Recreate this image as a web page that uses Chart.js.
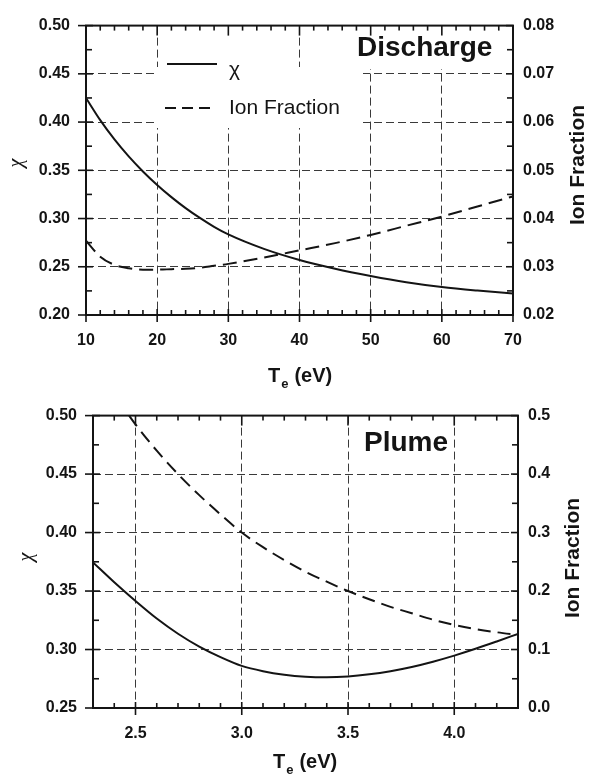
<!DOCTYPE html>
<html><head><meta charset="utf-8">
<script src="https://cdn.jsdelivr.net/npm/chart.js@4.4.1/dist/chart.umd.min.js"></script>
<style>
html,body{margin:0;padding:0;background:#fff;width:589px;height:781px;overflow:hidden}
.wrap{position:absolute;left:0;width:589px}
#w1{top:0;height:390px}
#w2{top:390px;height:391px}
canvas{display:block}
</style></head><body>
<div class="wrap" id="w1"><canvas id="c1" width="589" height="390"></canvas></div>
<div class="wrap" id="w2"><canvas id="c2" width="589" height="391"></canvas></div>
<script>
// ---------- Discharge panel data ----------
const dischargeTe  = [10,12,14,16,18,20,22,24,26,28,30,35,40,45,50,55,60,65,70];
const dischargeChi = [0.425,0.402,0.382,0.3644,0.3488,0.3348,0.3222,0.3108,0.3006,0.2914,0.2835,0.2685,0.257,0.248,0.2405,0.234,0.229,0.2253,0.2222];
const dischargeIon = [0.0354,0.0321,0.0304,0.0297,0.0294,0.0294,0.0295,0.0296,0.0298,0.0302,0.0306,0.0319,0.0334,0.0349,0.0366,0.0385,0.0404,0.0425,0.0446];
const dischargeXTicks = [10,70,10];      // min, max, major step
const dischargeChiTicks = [0.20,0.50,0.05];
const dischargeIonTicks = [0.02,0.08,0.01];

// ---------- Plume panel data ----------
const plumeTe    = [2.3,2.4,2.5,2.6,2.7,2.8,2.9,3.0,3.1,3.2,3.3,3.4,3.5,3.6,3.7,3.8,3.9,4.0,4.1,4.2,4.3];
const plumeChi   = [0.3745,0.3575,0.3415,0.3265,0.3135,0.3025,0.2935,0.286,0.2815,0.2785,0.2768,0.2763,0.277,0.2788,0.2815,0.2851,0.2896,0.2948,0.3006,0.3069,0.3134];
const plumeIonTe = [2.47,2.5,2.6,2.7,2.8,2.9,3.0,3.1,3.2,3.3,3.4,3.5,3.6,3.7,3.8,3.9,4.0,4.1,4.2,4.3];
const plumeIon   = [0.5,0.485,0.44,0.40,0.364,0.331,0.30,0.275,0.253,0.233,0.216,0.20,0.186,0.173,0.162,0.151,0.142,0.135,0.1295,0.125];
const plumeXTicks = [2.3,4.3,0.5];
const plumeChiTicks = [0.25,0.50,0.05];
const plumeIonTicks = [0.0,0.5,0.1];

const FONT = "'Liberation Sans', Arial, Helvetica, sans-serif";
const INK = '#141414';

function pts(xs, ys){ return xs.map((x,i)=>({x:x, y:ys[i]})); }
function near(v, step){ return Math.abs(v/step - Math.round(v/step)) < 1e-6; }
function majors(t){
  const out = [];
  let k = Math.ceil(t[0]/t[2] - 1e-6);
  for(;;){ const v = +(k*t[2]).toFixed(6); if(v > t[1] + 1e-9) break; out.push({value:v}); k++; }
  return out;
}

function drawText(ctx, txt, x, y, font, align, rot){
  ctx.save();
  ctx.translate(x,y);
  if(rot) ctx.rotate(rot);
  ctx.font = font; ctx.fillStyle = INK;
  ctx.textAlign = align || 'left'; ctx.textBaseline = 'middle';
  ctx.fillText(txt,0,0);
  ctx.restore();
}

function makeChart(id, cfg){
  const area = cfg.area;
  const canvas = document.getElementById(id);
  const W = canvas.width, H = canvas.height;
  const interior = (t)=> (c)=> {
    const v = c.tick ? c.tick.value : null;
    if(v===null || v===undefined) return 'rgba(0,0,0,0)';
    return (v > t[0] + 1e-9 && v < t[1] - 1e-9) ? '#3a3a3a' : 'rgba(0,0,0,0)';
  };
  const overlay = {
    id: 'overlay_'+id,
    afterDraw(chart){
      const ctx = chart.ctx, a = chart.chartArea;
      const xs = chart.scales.x, yl = chart.scales.y, yr = chart.scales.y1;
      ctx.save(); ctx.fillStyle = '#fff';
      (cfg.boxes||[]).forEach(b=>ctx.fillRect(b[0],b[1],b[2],b[3]));
      ctx.restore();
      if(cfg.extra) cfg.extra(ctx, chart);
      ctx.save();
      ctx.strokeStyle = INK; ctx.lineWidth = 2;
      ctx.strokeRect(a.left, a.top, a.right-a.left, a.bottom-a.top);
      ctx.lineWidth = 1.6;
      const line=(x1,y1,x2,y2)=>{ctx.beginPath();ctx.moveTo(x1,y1);ctx.lineTo(x2,y2);ctx.stroke();};
      const each=(sc,minor,major,fn)=>{
        const n = Math.round((sc.max-sc.min)/minor);
        for(let i=0;i<=n;i++){ const v = sc.min + i*minor; fn(sc.getPixelForValue(v), near(v,major)); }
      };
      each(xs, cfg.xMinor, cfg.xT[2], (p,M)=>{
        line(p, a.bottom + (M?7:0), p, a.bottom - (M?6:5));
        line(p, a.top, p, a.top + (M?10:5));
      });
      each(yl, cfg.yMinor, cfg.yT[2], (p,M)=>{
        line(a.left - (M?8:0), p, a.left + (M?7:6), p);
      });
      each(yr, cfg.rMinor, cfg.rT[2], (p,M)=>{
        line(a.right - (M?7:6), p, a.right, p);
      });
      ctx.restore();
      const tx = cfg.xTitle;
      ctx.save();
      ctx.fillStyle = INK; ctx.textBaseline = 'middle'; ctx.textAlign='left';
      ctx.font = 'bold 20px '+FONT;
      ctx.fillText('T', tx[0], tx[1]);
      const tw = ctx.measureText('T').width;
      ctx.font = 'bold 13px '+FONT;
      ctx.fillText('e', tx[0]+tw+1, tx[1]+8);
      const ew = ctx.measureText('e').width;
      ctx.font = 'bold 20px '+FONT;
      ctx.fillText('(eV)', tx[0]+tw+ew+7, tx[1]);
      ctx.restore();
      drawText(ctx, 'χ', cfg.yTitle[0], cfg.yTitle[1], "italic 20px 'Liberation Serif', 'DejaVu Serif', serif", 'center', -Math.PI/2);
      drawText(ctx, 'Ion Fraction', cfg.rTitle[0], cfg.rTitle[1], 'bold 21px '+FONT, 'center', -Math.PI/2);
      drawText(ctx, cfg.label, cfg.labelPos[0], cfg.labelPos[1], 'bold 28px '+FONT, 'left', 0);
    }
  };
  const tickFont = { family: FONT, size: 16, weight: 'bold' };
  return new Chart(canvas, {
    type: 'line',
    data: { datasets: [
      { label: 'χ', data: pts(cfg.chiX, cfg.chi), yAxisID: 'y', borderColor: INK, borderWidth: 2,
        pointRadius: 0, fill: false, cubicInterpolationMode: 'monotone' },
      { label: 'Ion Fraction', data: pts(cfg.ionX, cfg.ion), yAxisID: 'y1', borderColor: INK, borderWidth: 2,
        borderDash: cfg.ionDash, pointRadius: 0, fill: false, cubicInterpolationMode: 'monotone' }
    ]},
    options: {
      responsive: false, animation: false, devicePixelRatio: 1,
      layout: { padding: { left: 0, right: 0, top: area.top, bottom: 0 } },
      plugins: { legend: { display: false }, tooltip: { enabled: false } },
      scales: {
        x: {
          type: 'linear', position: 'bottom', min: cfg.xT[0], max: cfg.xT[1],
          afterBuildTicks: (s)=>{ s.ticks = majors(cfg.xT); },
          ticks: { autoSkip: false, padding: 16, color: INK, font: tickFont,
            callback: (v)=> (+v).toFixed(cfg.xDec) },
          grid: { drawTicks: false, color: interior(cfg.xT), lineWidth: 1 },
          border: { display: false, dash: [8,4] },
          afterFit: (s)=>{ s.height = H - area.bottom; }
        },
        y: {
          type: 'linear', position: 'left', min: cfg.yT[0], max: cfg.yT[1],
          afterBuildTicks: (s)=>{ s.ticks = majors(cfg.yT); },
          ticks: { autoSkip: false, padding: 16, color: INK, font: tickFont,
            callback: (v)=> (+v).toFixed(2) },
          grid: { drawTicks: false, color: interior(cfg.yT), lineWidth: 1 },
          border: { display: false, dash: [8,4] },
          afterFit: (s)=>{ s.width = area.left; }
        },
        y1: {
          type: 'linear', position: 'right', min: cfg.rT[0], max: cfg.rT[1],
          afterBuildTicks: (s)=>{ s.ticks = majors(cfg.rT); },
          ticks: { autoSkip: false, padding: 10, color: INK, font: tickFont,
            callback: (v)=> (+v).toFixed(cfg.rDec) },
          grid: { display: false, drawTicks: false },
          border: { display: false },
          afterFit: (s)=>{ s.width = W - area.right; }
        }
      }
    },
    plugins: [overlay]
  });
}

makeChart('c1', {
  area: { left: 86, right: 513, top: 15, bottom: 315 },
  chiX: dischargeTe, chi: dischargeChi, ionX: dischargeTe, ion: dischargeIon,
  xT: dischargeXTicks, yT: dischargeChiTicks, rT: dischargeIonTicks, xDec: 0, rDec: 2,
  xMinor: 2, yMinor: 0.025, rMinor: 0.005,
  ionDash: [14,7],
  xTitle: [268, 376], yTitle: [17, 163], rTitle: [578, 165],
  label: 'Discharge', labelPos: [357, 48],
  boxes: [[159, 26, 94, 41], [155, 67, 208, 61], [357, 27, 150, 42]],
  extra: (ctx)=>{
    ctx.save();
    ctx.strokeStyle = INK; ctx.lineWidth = 2;
    ctx.beginPath(); ctx.moveTo(167, 64); ctx.lineTo(217, 64); ctx.stroke();
    ctx.setLineDash([11,6]);
    ctx.beginPath(); ctx.moveTo(165, 108); ctx.lineTo(212, 108); ctx.stroke();
    ctx.restore();
    drawText(ctx, 'χ', 229, 70, '21px '+FONT, 'left', 0);
    drawText(ctx, 'Ion Fraction', 229, 108, '21px '+FONT, 'left', 0);
  }
});

makeChart('c2', {
  area: { left: 93, right: 518, top: 19, bottom: 318 },
  chiX: plumeTe, chi: plumeChi, ionX: plumeIonTe, ion: plumeIon,
  xT: plumeXTicks, yT: plumeChiTicks, rT: plumeIonTicks, xDec: 1, rDec: 1,
  xMinor: 0.1, yMinor: 0.025, rMinor: 0.05,
  ionDash: [13,7],
  xTitle: [273, 372], yTitle: [27, 167], rTitle: [573, 168],
  label: 'Plume', labelPos: [364, 53],
  boxes: []
});
</script>
</body></html>
